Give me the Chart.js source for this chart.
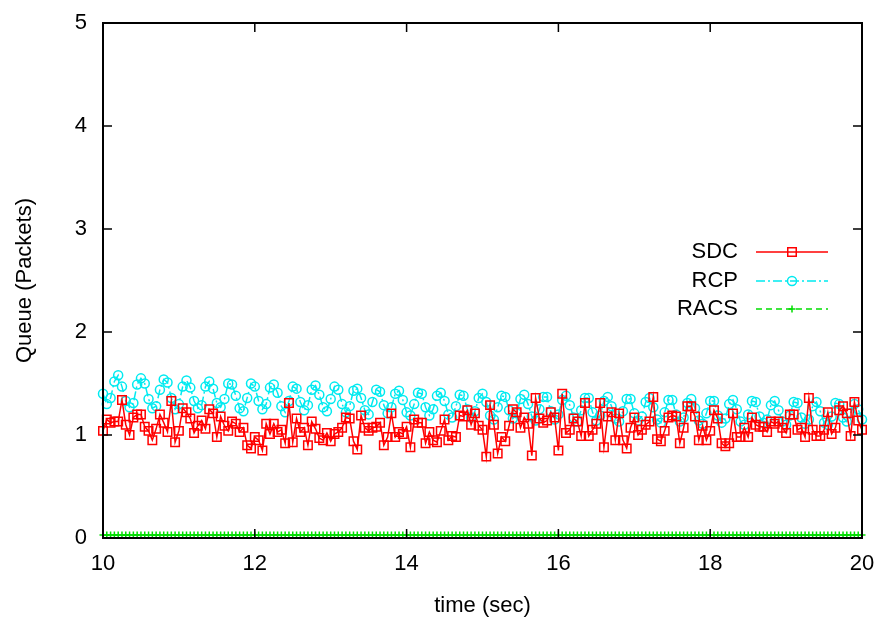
<!DOCTYPE html>
<html>
<head>
<meta charset="utf-8">
<script src="https://cdn.jsdelivr.net/npm/chart.js@4.4.0/dist/chart.umd.min.js"></script>
<style>
  html, body { margin: 0; padding: 0; background: #fff; }
</style>
</head>
<body>
<canvas id="queue-graph" width="882" height="623"></canvas>
<script>
// Données : un point toutes les 0.05 s entre 10 s et 20 s
const tempsDebut = 10;
const pasTemps = 0.05;

const sdc = [
  1.04,1.15,1.12,1.13,1.13,1.34,1.10,1.00,1.17,1.20,1.20,1.08,1.04,0.95,1.06,1.20,1.12,1.03,1.33,0.93,
  1.04,1.26,1.22,1.16,1.02,1.09,1.14,1.06,1.25,1.21,0.98,1.18,1.09,1.04,
  1.13,1.11,1.03,1.07,0.90,0.87,0.98,0.95,0.85,1.11,1.01,1.11,1.03,1.05,0.92,1.31,0.93,1.16,1.03,1.07,
  0.90,1.13,1.06,0.97,0.95,1.02,0.94,1.01,1.03,1.07,1.17,1.16,0.94,0.86,1.19,
  1.07,1.04,1.07,1.08,1.12,0.90,0.98,1.21,0.98,1.03,1.01,1.08,0.88,1.15,1.12,1.12,0.92,1.03,0.95,0.93,
  1.04,1.15,0.95,0.99,0.98,1.19,1.18,1.24,1.10,1.21,1.09,1.05,0.79,1.29,
  1.10,0.82,0.98,0.94,1.09,1.25,1.22,1.07,1.17,1.11,0.80,1.36,1.16,1.12,1.14,1.22,1.17,0.85,1.40,1.02,
  1.05,1.16,1.13,0.99,1.31,0.99,1.05,1.11,1.31,0.88,1.18,1.22,0.95,
  1.21,0.95,0.87,1.07,1.17,1.00,1.05,1.10,1.13,1.37,0.96,0.94,1.04,1.17,1.19,1.18,0.92,1.07,1.28,1.28,
  1.18,0.95,1.09,0.95,1.04,1.24,1.16,0.92,0.89,0.92,1.21,0.98,0.98,
  1.07,0.98,1.17,1.10,1.08,1.08,1.03,1.13,1.11,1.13,1.07,1.02,1.20,1.20,1.05,1.07,0.98,1.36,1.05,0.99,
  0.99,1.05,1.22,1.01,1.07,1.24,1.28,1.21,0.99,1.32,1.14,1.05
];

const rcp = [
  1.40,1.30,1.36,1.52,1.58,1.47, 1.33,1.27,1.31,1.49,1.55,
  1.50,1.35,1.26,1.28,1.44,1.54, 1.51,1.36,1.25,1.30,1.47,
  1.53,1.46,1.33,1.26,1.29,1.47, 1.52,1.45,1.31,1.27,1.35,
  1.50,1.49,1.38,1.26,1.23,1.36, 1.50,1.47,1.33,1.25,1.30,
  1.46,1.49,1.41,1.28,1.22,1.33, 1.47,1.45,1.32,1.24,1.29,
  1.44,1.48,1.39,1.27,1.23,1.35, 1.47,1.44,1.30,1.22,1.28,
  1.43,1.45,1.36,1.24,1.20,1.32, 1.44,1.42,1.29,1.21,1.27,
  1.40,1.43,1.34,1.22,1.19,1.30, 1.41,1.40,1.27,1.19,1.25,
  1.38,1.41,1.33,1.20,1.17,1.28, 1.39,1.38,1.25,1.17,1.23,
  1.36,1.40,1.32,1.19,1.15,1.27, 1.38,1.37,1.24,1.16,1.21,
  1.35,1.39,1.30,1.18,1.14,1.25, 1.37,1.37,1.23,1.15,1.20,
  1.34,1.38,1.29,1.17,1.13,1.24, 1.36,1.36,1.22,1.14,1.19,
  1.33,1.37,1.28,1.16,1.13,1.23, 1.35,1.35,1.21,1.14,1.18,
  1.32,1.36,1.27,1.15,1.12,1.22, 1.34,1.34,1.20,1.13,1.17,
  1.31,1.35,1.26,1.14,1.11,1.21, 1.33,1.33,1.19,1.12,1.16,
  1.30,1.34,1.25,1.13,1.10,1.20, 1.33,1.32,1.18,1.12,1.15,
  1.29,1.33,1.24,1.13,1.10,1.19, 1.32,1.31,1.17,1.11,1.15,
  1.28,1.32,1.23,1.12,1.10,1.18, 1.31,1.30,1.17,1.13,1.21,
  1.30,1.25,1.15
];

const racs = [
  0.03,0.03,0.03,0.03,0.03,0.03,0.03,0.03,0.03,0.03,0.03,0.03,0.03,0.03,0.03,0.03,0.03,0.03,0.03,0.03,
  0.03,0.03,0.03,0.03,0.03,0.03,0.03,0.03,0.03,0.03,0.03,0.03,0.03,0.03,0.03,0.03,0.03,0.03,0.03,0.03,
  0.03,0.03,0.03,0.03,0.03,0.03,0.03,0.03,0.03,0.03,0.03,0.03,0.03,0.03,0.03,0.03,0.03,0.03,0.03,0.03,
  0.03,0.03,0.03,0.03,0.03,0.03,0.03,0.03,0.03,0.03,0.03,0.03,0.03,0.03,0.03,0.03,0.03,0.03,0.03,0.03,
  0.03,0.03,0.03,0.03,0.03,0.03,0.03,0.03,0.03,0.03,0.03,0.03,0.03,0.03,0.03,0.03,0.03,0.03,0.03,0.03,
  0.03,0.03,0.03,0.03,0.03,0.03,0.03,0.03,0.03,0.03,0.03,0.03,0.03,0.03,0.03,0.03,0.03,0.03,0.03,0.03,
  0.03,0.03,0.03,0.03,0.03,0.03,0.03,0.03,0.03,0.03,0.03,0.03,0.03,0.03,0.03,0.03,0.03,0.03,0.03,0.03,
  0.03,0.03,0.03,0.03,0.03,0.03,0.03,0.03,0.03,0.03,0.03,0.03,0.03,0.03,0.03,0.03,0.03,0.03,0.03,0.03,
  0.03,0.03,0.03,0.03,0.03,0.03,0.03,0.03,0.03,0.03,0.03,0.03,0.03,0.03,0.03,0.03,0.03,0.03,0.03,0.03,
  0.03,0.03,0.03,0.03,0.03,0.03,0.03,0.03,0.03,0.03,0.03,0.03,0.03,0.03,0.03,0.03,0.03,0.03,0.03,0.03,
  0.03
];

const xTicks = [10, 12, 14, 16, 18, 20];
const yTicks = [0, 1, 2, 3, 4, 5];

const POLICE = "'Liberation Sans', Arial, sans-serif";

// Associe chaque valeur à son instant
function enPoints(serie) {
  return serie.map((v, i) => ({ x: tempsDebut + i * pasTemps, y: v }));
}

const styles = [
  { label: 'SDC',  data: sdc,  color: '#ff0000', dash: [],           point: 'rect',   radius: 6 },
  { label: 'RCP',  data: rcp,  color: '#00eaf0', dash: [9, 3, 2, 3], point: 'circle', radius: 4.5 },
  { label: 'RACS', data: racs, color: '#00dd00', dash: [6, 4],       point: 'cross',  radius: 3.5 }
];

/**
 * Cadre façon gnuplot : bordure noire, graduations vers l'intérieur sur les 4 côtés,
 * et légende dessinée à la main à droite.
 */
const cadreGnuplot = {
  id: 'cadreGnuplot',
  afterDatasetsDraw(chart) {
    const { ctx, chartArea: a, scales: { x, y } } = chart;
    ctx.save();
    ctx.strokeStyle = '#000';
    ctx.lineWidth = 1.5;
    ctx.setLineDash([]);
    ctx.beginPath();
    for (const v of xTicks) {
      const px = x.getPixelForValue(v);
      ctx.moveTo(px, a.bottom); ctx.lineTo(px, a.bottom - 9);
      ctx.moveTo(px, a.top);    ctx.lineTo(px, a.top + 9);
    }
    for (const v of yTicks) {
      const py = y.getPixelForValue(v);
      ctx.moveTo(a.left, py);  ctx.lineTo(a.left + 9, py);
      ctx.moveTo(a.right, py); ctx.lineTo(a.right - 9, py);
    }
    ctx.stroke();
    ctx.lineWidth = 2;
    ctx.strokeRect(a.left, a.top, a.right - a.left, a.bottom - a.top);

    // Légende
    const lignesY = [252, 281, 309];
    ctx.font = '22px ' + POLICE;
    ctx.textAlign = 'right';
    ctx.textBaseline = 'middle';
    chart.data.datasets.forEach((ds, i) => {
      const ly = lignesY[i];
      ctx.fillStyle = '#000';
      ctx.fillText(ds.label, 738, ly);
      ctx.strokeStyle = ds.borderColor;
      ctx.lineWidth = 1.5;
      ctx.setLineDash(ds.borderDash);
      ctx.beginPath();
      ctx.moveTo(756, ly); ctx.lineTo(828, ly);
      ctx.stroke();
      ctx.setLineDash([]);
      ctx.fillStyle = 'rgba(0,0,0,0)';
      Chart.helpers.drawPoint(ctx, {
        pointStyle: ds.pointStyle, radius: ds.pointRadius, borderWidth: 1.5
      }, 792, ly);
    });
    ctx.restore();
  }
};

new Chart(document.getElementById('queue-graph'), {
  type: 'line',
  data: {
    datasets: styles.map(s => ({
      label: s.label,
      data: enPoints(s.data),
      borderColor: s.color,
      backgroundColor: 'rgba(0,0,0,0)',
      borderWidth: 1.5,
      borderDash: s.dash,
      pointStyle: s.point,
      pointRadius: s.radius,
      pointBorderWidth: 1.5,
      pointBorderColor: s.color,
      pointBackgroundColor: 'rgba(0,0,0,0)',
      tension: 0,
      fill: false,
      clip: 8
    }))
  },
  options: {
    responsive: false,
    animation: false,
    layout: { padding: { left: 0, right: 20, top: 23, bottom: 0 } },
    plugins: {
      legend: { display: false },
      tooltip: { enabled: false }
    },
    scales: {
      x: {
        type: 'linear',
        min: 10,
        max: 20,
        afterBuildTicks: s => { s.ticks = xTicks.map(v => ({ value: v })); },
        afterFit: s => { s.height = 85; s.paddingLeft = 0; s.paddingRight = 0; },
        grid: { display: false, drawTicks: false },
        border: { display: false },
        ticks: { color: '#000', padding: 13, font: { family: POLICE, size: 22 } },
        title: {
          display: true, text: 'time (sec)', color: '#000',
          padding: { top: 0, bottom: 4 }, font: { family: POLICE, size: 22 }
        }
      },
      y: {
        min: 0,
        max: 5,
        afterBuildTicks: s => { s.ticks = yTicks.map(v => ({ value: v })); },
        afterFit: s => { s.width = 103; s.paddingTop = 0; s.paddingBottom = 0; },
        grid: { display: false, drawTicks: false },
        border: { display: false },
        ticks: { color: '#000', padding: 16, font: { family: POLICE, size: 22 } },
        title: {
          display: true, text: 'Queue (Packets)', color: '#000',
          padding: { top: 12, bottom: 0 }, font: { family: POLICE, size: 22 }
        }
      }
    }
  },
  plugins: [cadreGnuplot]
});
</script>
</body>
</html>
